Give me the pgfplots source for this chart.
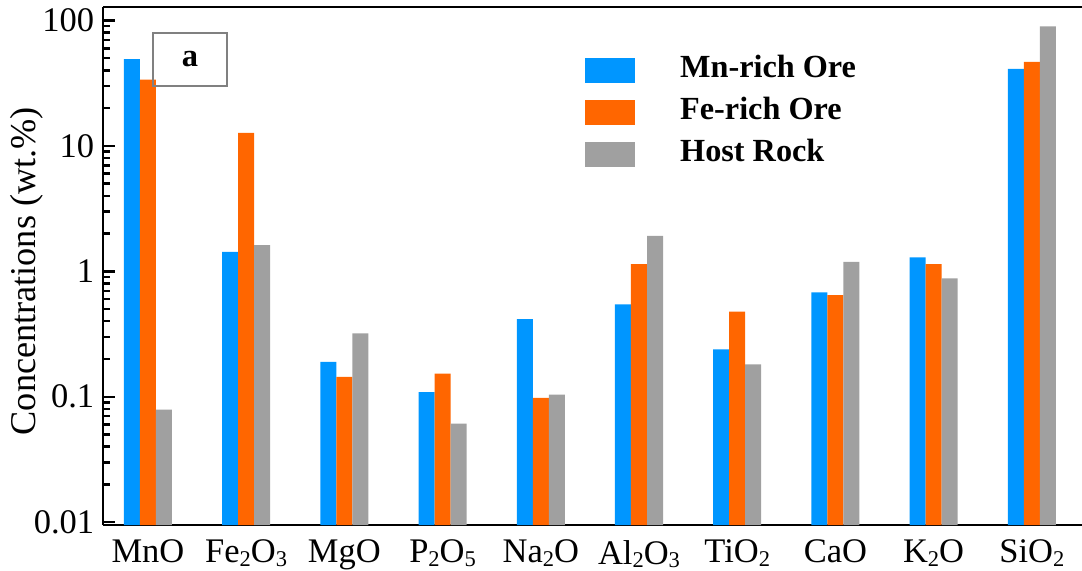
\documentclass[border=0pt]{standalone}
\usepackage{fontspec}
\setmainfont{Liberation Serif}
\usepackage{pgfplots}
\pgfplotsset{compat=1.18}
\definecolor{mnblue}{HTML}{0096FF}
\definecolor{feorange}{HTML}{FF6600}
\definecolor{hostgray}{HTML}{A0A0A0}
\newcommand{\sub}[1]{\raisebox{-1.3pt}{\fontsize{9}{10}\selectfont #1}}
\begin{document}
\begin{tikzpicture}
\begin{axis}[
  name=main,
  scale only axis,
  width=391.6pt, height=207.2pt,
  ymode=log, log origin=infty,
  ymin=0.0095, ymax=128,
  xmin=-0.458, xmax=9.511,
  axis x line*=bottom, axis y line*=left,
  axis line style={line width=1pt, black},
  xtick={0,...,9},
  xticklabels={MnO, Fe\sub{2}O\sub{3}, MgO, P\sub{2}O\sub{5}, Na\sub{2}O, Al\sub{2}O\sub{3}, TiO\sub{2}, CaO, K\sub{2}O, SiO\sub{2}},
  x tick style={draw=none},
  x tick label style={yshift=2.3pt},
  ytick={0.01,0.1,1,10,100},
  yticklabels={0.01,0.1,1,10,100},
  minor ytick={},
  y tick style={line width=1pt, black},
  tick align=inside,
  major tick length=4.8pt,
  ticklabel style={font=\fontsize{13.8}{16}\selectfont},
  ylabel={Concentrations (wt.\%)},
  ylabel style={font=\fontsize{14.5}{17}\selectfont, at={(axis description cs:-0.0776,0.49)}, anchor=center},
  ybar=0pt, bar width=0.163,
  legend cell align=left,
  legend image code/.code={\fill[#1] (0pt,-5pt) rectangle (20pt,5pt); \path (38pt,0pt);},
  legend style={draw=none, fill=none, inner sep=0pt, at={(0.492,0.905)}, anchor=north west,
    font=\fontsize{12.9}{15}\selectfont\bfseries, row sep=5.8pt,
    nodes={inner sep=0pt, text height=8.5pt, text depth=2.5pt}},
]
\addplot[fill=mnblue, draw=none, bar shift=-0.163] coordinates {
 (0,49.2) (1,1.43) (2,0.190) (3,0.109) (4,0.416) (5,0.546) (6,0.239) (7,0.679) (8,1.29) (9,41.2)};
\addlegendentry{Mn-rich Ore}
\addplot[fill=feorange, draw=none, bar shift=0] coordinates {
 (0,33.7) (1,12.7) (2,0.144) (3,0.153) (4,0.098) (5,1.14) (6,0.477) (7,0.647) (8,1.14) (9,46.8)};
\addlegendentry{Fe-rich Ore}
\addplot[fill=hostgray, draw=none, bar shift=0.163] coordinates {
 (0,0.079) (1,1.62) (2,0.320) (3,0.061) (4,0.104) (5,1.92) (6,0.181) (7,1.19) (8,0.879) (9,89.6)};
\addlegendentry{Host Rock}
\end{axis}
\draw[line width=1pt] (main.north west) -- (main.north east);
\draw[gray, line width=0.5pt] ([xshift=20pt,yshift=-10.4pt]main.north west) rectangle ([xshift=49.6pt,yshift=-31.6pt]main.north west);
\node[black, font=\fontsize{13}{15}\selectfont\bfseries] at ([xshift=34.8pt,yshift=-21pt]main.north west) {a};
\pgfresetboundingbox
\path[use as bounding box] ([xshift=-41.2pt,yshift=-18.4pt]main.south west) rectangle ([yshift=2.8pt]main.north east);
\end{tikzpicture}
\end{document}
